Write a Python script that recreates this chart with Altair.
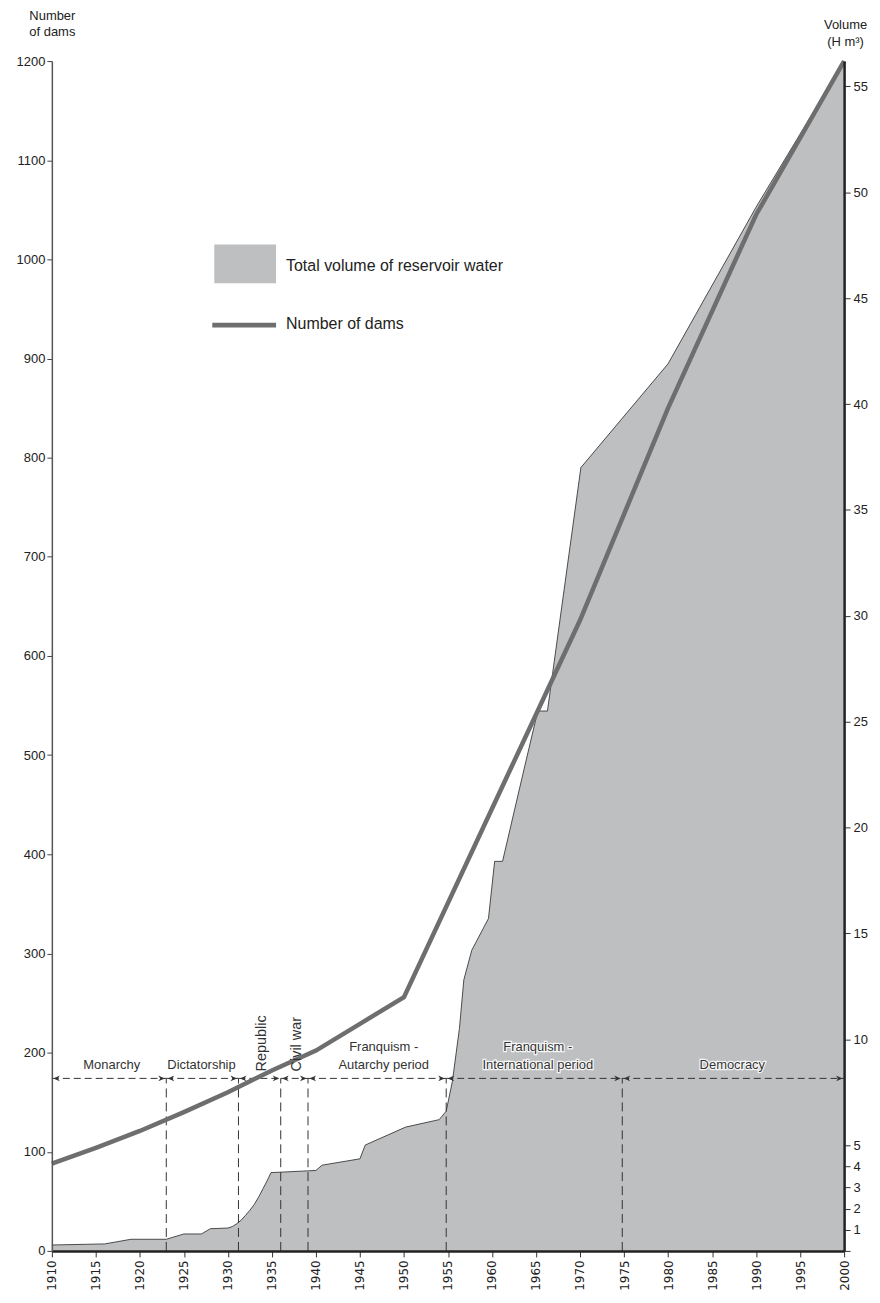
import altair as alt
import pandas as pd

# ---------------- data ----------------
vol_years = [1910, 1916, 1919, 1923, 1925, 1927, 1928, 1930, 1930.5, 1931, 1931.5, 1932,
             1932.5, 1933, 1933.5, 1934, 1934.5, 1934.9, 1936, 1940, 1940.7, 1945, 1945.6,
             1950.2, 1954, 1954.8, 1955.5, 1956.3, 1956.8, 1957.7, 1959.6, 1960.3, 1961.2,
             1963.5, 1965.2, 1966.3, 1970.1, 1980, 1990, 2000]
vol_values = [0.28, 0.33, 0.55, 0.55, 0.8, 0.8, 1.05, 1.08, 1.15, 1.28, 1.45, 1.68,
              1.92, 2.2, 2.55, 2.95, 3.35, 3.7, 3.72, 3.8, 4.05, 4.35, 5.0,
              5.85, 6.2, 6.6, 8.0, 10.5, 12.8, 14.2, 15.7, 18.4, 18.4,
              22.5, 25.5, 25.5, 37.0, 41.9, 49.3, 56.2]

dam_years = [1910, 1915, 1920, 1925, 1930, 1935, 1940, 1945, 1950, 1970, 1980, 1990, 2000]
dam_counts = [88, 104, 121, 140, 160, 182, 202, 229, 256, 636, 850, 1045, 1200]

boundaries = [1910, 1923, 1931.2, 1936, 1939.1, 1954.8, 1974.8, 2000]
period_labels = ["Monarchy", "Dictatorship", "Republic", "Civil war",
                 "Franquism -\nAutarchy period", "Franquism -\nInternational period", "Democracy"]
label_x = [1916.8, 1927.0, 1933.9, 1937.8, 1947.7, 1965.2, 1987.3]
label_y = [183, 183, 181, 181, 202, 202, 183]
label_rotated = [False, False, True, True, False, False, False]
arrow_level = 174

x_ticks = list(range(1910, 2001, 5))
left_ticks = list(range(0, 1201, 100))
right_ticks = [0, 1, 2, 3, 4, 5, 10, 15, 20, 25, 30, 35, 40, 45, 50, 55]
legend_labels = ["Total volume of reservoir water", "Number of dams"]

# ---------------- tables ----------------
vol_df = pd.DataFrame({"year": vol_years, "volume": vol_values})
dam_df = pd.DataFrame({"year": dam_years, "dams": dam_counts})
seg_df = pd.DataFrame({"start": boundaries[:-1], "end": boundaries[1:],
                       "level": [arrow_level] * (len(boundaries) - 1)})
vline_df = pd.DataFrame({"year": boundaries[1:-1], "y0": [0] * (len(boundaries) - 2),
                         "y1": [arrow_level] * (len(boundaries) - 2)})
lab_df = pd.DataFrame({"label": period_labels, "x": label_x, "rot": label_rotated,
                       "y": label_y})
hlab_df = lab_df[~lab_df["rot"]]
rlab_df = lab_df[lab_df["rot"]]

FONT = "Liberation Sans"
FILL = "#bebfc1"
DARK = "#333333"
LINEC = "#6e6e6e"

xs = alt.Scale(domain=[1910, 2000], nice=False, zero=False)
ys_left = alt.Scale(domain=[0, 1200], nice=False, zero=True)
ys_right = alt.Scale(domain=[0, 56.2], nice=False, zero=True)

x_axis = alt.Axis(
    values=x_ticks, labelExpr="'' + datum.value", labelAngle=270, title=None, orient="bottom",
    labelFont="DejaVu Sans", labelFontSize=12, labelColor="#222", labelPadding=3,
    tickSize=6, tickColor="#333", domainColor="#222", domainWidth=2.5, zindex=1)

left_axis = alt.Axis(
    orient="left", values=left_ticks, labelExpr="'' + datum.value",
    title=["Number", "of dams"], titleAngle=0, titleAlign="center", titleBaseline="alphabetic",
    titleX=0, titleY=-42, titleFontSize=13, titleFontWeight="normal", titleColor="#222",
    titleFont=FONT, titleLineHeight=16,
    labelFont=FONT, labelFontSize=13, labelColor="#222", labelPadding=2,
    tickSize=5, tickColor="#444", domainColor="#555", domainWidth=1.5, zindex=1)

right_axis = alt.Axis(
    orient="right", values=right_ticks, labelExpr="datum.value == 0 ? '' : datum.label",
    title=["Volume", "(H m³)"], titleAngle=0, titleAlign="center", titleBaseline="alphabetic",
    titleX=1, titleY=-33, titleFontSize=13, titleFontWeight="normal", titleColor="#222",
    titleFont=FONT, titleLineHeight=17,
    labelFont=FONT, labelFontSize=13, labelColor="#222", labelPadding=3,
    tickSize=6, tickColor="#333", domainColor="#222", domainWidth=2.5, zindex=1)


def X(field):
    return alt.X(field, type="quantitative", scale=xs, axis=x_axis)


def YL(field):
    return alt.Y(field, type="quantitative", scale=ys_left, axis=left_axis)


# ---------------- area (right axis) ----------------
area = alt.Chart(vol_df).mark_area(
    color=FILL, opacity=1, line={"color": "#3a3a3a", "strokeWidth": 0.9}
).encode(
    x=X("year"),
    y=alt.Y("volume:Q", scale=ys_right, axis=right_axis),
)

# ---------------- left-scale layers ----------------
vlines = alt.Chart(vline_df).mark_rule(color=DARK, strokeWidth=1, strokeDash=[9, 5]).encode(
    x=X("year"), y=YL("y0"), y2="y1:Q")

hsegs = alt.Chart(seg_df).mark_rule(color=DARK, strokeWidth=1, strokeDash=[7, 4]).encode(
    x=X("start"), x2="end:Q", y=YL("level"))

RIGHT_HEAD = "M0,0L-1,-0.45L-0.7,0L-1,0.45Z"
LEFT_HEAD = "M0,0L1,-0.45L0.7,0L1,0.45Z"
arrow_r = alt.Chart(seg_df).mark_point(shape=RIGHT_HEAD, filled=True, size=170, color=DARK,
                                       opacity=1, strokeWidth=0, xOffset=-1.5).encode(
    x=X("end"), y=YL("level"))
arrow_l = alt.Chart(seg_df).mark_point(shape=LEFT_HEAD, filled=True, size=170, color=DARK,
                                       opacity=1, strokeWidth=0, xOffset=1.5).encode(
    x=X("start"), y=YL("level"))

dam_line = alt.Chart(dam_df).mark_line(color=LINEC, strokeWidth=4.5).encode(
    x=X("year"), y=YL("dams"))

halo = alt.Chart(hlab_df).mark_text(font=FONT, fontSize=13, color="white", stroke="white",
                                    strokeWidth=2.5, strokeOpacity=0.85, align="center",
                                    baseline="alphabetic", lineBreak="\n", lineHeight=18).encode(
    x=X("x"), y=YL("y"), text="label:N")
htext = alt.Chart(hlab_df).mark_text(font=FONT, fontSize=13, color=DARK, align="center",
                                     baseline="alphabetic", lineBreak="\n", lineHeight=18).encode(
    x=X("x"), y=YL("y"), text="label:N")
rtext = alt.Chart(rlab_df).mark_text(font=FONT, fontSize=14.5, color=DARK, align="left",
                                     baseline="middle", angle=270).encode(
    x=X("x"), y=YL("y"), text="label:N")

# ---------------- legend (drawn) ----------------
leg1 = pd.DataFrame({"label": [legend_labels[0]]})
leg2 = pd.DataFrame({"label": [legend_labels[1]]})
leg_rect = alt.Chart(leg1).mark_rect(color=FILL).encode(
    x=alt.value(163), x2=alt.value(225), y=alt.value(184), y2=alt.value(223))
leg_rule = alt.Chart(leg2).mark_rule(color=LINEC, strokeWidth=5).encode(
    x=alt.value(161), x2=alt.value(225), y=alt.value(265))
leg_t1 = alt.Chart(leg1).mark_text(font=FONT, fontSize=16, color="#222", align="left",
                                   baseline="middle").encode(
    x=alt.value(235), y=alt.value(206), text="label:N")
leg_t2 = alt.Chart(leg2).mark_text(font=FONT, fontSize=16, color="#222", align="left",
                                   baseline="middle").encode(
    x=alt.value(235), y=alt.value(264), text="label:N")

left_group = alt.layer(vlines, hsegs, arrow_l, arrow_r, dam_line, halo, htext, rtext,
                       leg_rect, leg_rule, leg_t1, leg_t2)

chart = alt.layer(area, left_group).resolve_scale(y="independent").properties(
    width=795, height=1194,
    autosize=alt.AutoSizeParams(type="none"),
    padding={"left": 44, "top": 51, "right": 28, "bottom": 42},
    background="white",
).configure_view(stroke=None).configure_axis(grid=False)

chart.save("out.html", embed_options={"renderer": "svg", "actions": False})
